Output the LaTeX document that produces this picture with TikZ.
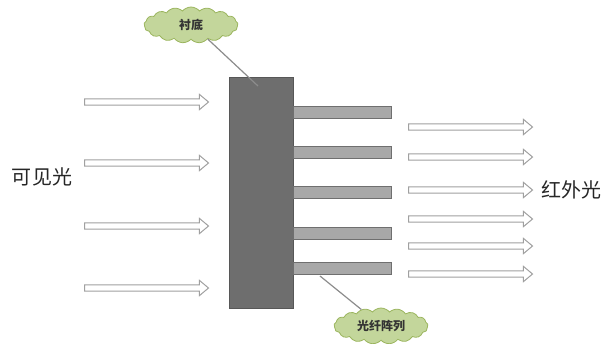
\documentclass[tikz,border=0pt]{standalone}
\usepackage{fontspec}
\newfontfamily\cjk{Noto Sans CJK SC}
\usetikzlibrary{shapes.arrows,shapes.symbols}
\definecolor{subfill}{HTML}{6E6E6E}
\definecolor{subdraw}{HTML}{575757}
\definecolor{fibfill}{HTML}{A8A8A8}
\definecolor{fibdraw}{HTML}{6F6F6F}
\definecolor{cloudfill}{HTML}{C3D69B}
\definecolor{clouddraw}{HTML}{9BB55E}
\definecolor{arrdraw}{HTML}{A0A0A0}
\definecolor{calloutc}{HTML}{8C8C8C}
\tikzset{
  hollowarrow/.style={single arrow, draw=arrdraw, fill=white, line width=1pt,
    minimum height=124pt, minimum width=15pt, inner sep=2.6pt,
    single arrow head extend=4.5pt, single arrow tip angle=80, anchor=west},
  fiberbox/.style={draw=fibdraw, fill=fibfill, line width=0.8pt},
  cloudbox/.style={cloud, cloud puffs=17, cloud puff arc=100, aspect=2.8, draw=clouddraw, fill=cloudfill,
    line width=0.8pt, minimum width=94pt, minimum height=36pt, inner sep=0pt,
    font=\cjk\bfseries\fontsize{12}{14}\selectfont, text=black!80},
  callout/.style={draw=calloutc, line width=1.2pt},
  biglabel/.style={font=\cjk\fontsize{20}{24}\selectfont, text=black!85}
}
\begin{document}
\begin{tikzpicture}[x=1pt,y=-1pt]
\useasboundingbox (0,0) rectangle (604,343);
% substrate
\node[draw=subdraw, fill=subfill, line width=0.8pt, minimum width=64pt, minimum height=231pt, inner sep=0pt, anchor=north west] (sub) at (229,77) {};
% fibers
\foreach \i/\y in {1/112,2/152,3/192,4/233,5/268}{
  \node[fiberbox, minimum width=98pt, minimum height=12pt, inner sep=0pt, anchor=west] (f\i) at (293,\y) {};
}
% left arrows
\foreach \i/\y in {1/102,2/163,3/226,4/288}{
  \node[hollowarrow] (la\i) at (84,\y) {};
}
% right arrows
\foreach \i/\y in {1/127,2/157,3/190,4/219,5/246,6/274}{
  \node[hollowarrow] (ra\i) at (408,\y) {};
}
% labels
\node[biglabel] (vis) at (42,177) {可见光};
\node[biglabel] (ir) at (571,190) {红外光};
% clouds
\node[cloudbox] (c1) at (191,25) {衬底};
\node[cloudbox] (c2) at (381,326) {光纤阵列};
\coordinate (p1) at (258,86);
\coordinate (p2) at (320,276);
\draw[callout] (c1.-40) -- (p1);
\draw[callout] (p2) -- (c2.140);
\end{tikzpicture}
\end{document}
